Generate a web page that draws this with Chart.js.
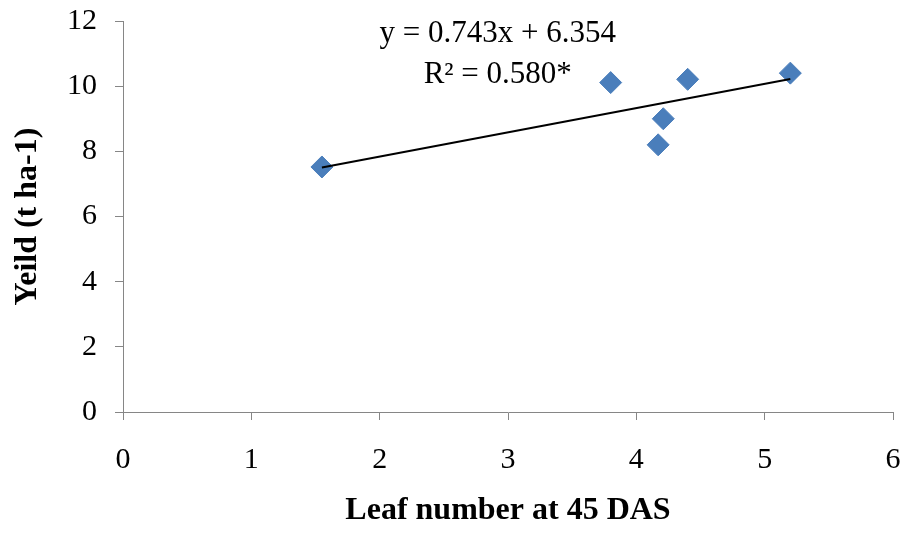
<!DOCTYPE html>
<html>
<head>
<meta charset="utf-8">
<script src="https://cdn.jsdelivr.net/npm/chart.js@4.4.1/dist/chart.umd.min.js"></script>
<style>
  html, body { margin: 0; padding: 0; background: #fff; }
  #wrap { width: 912px; height: 533px; }
</style>
</head>
<body>
<div id="wrap"><canvas id="myChart" width="912" height="533"></canvas></div>
<script>
// leaf number at 45 DAS vs yield
const leafNumber = [1.55, 3.80, 4.17, 4.21, 4.40, 5.20];
const yieldValues = [7.52, 10.11, 8.20, 9.00, 10.21, 10.40];

// linear trend shown on the chart
const slope = 0.743;
const intercept = 6.354;
const equationLines = ['y = 0.743x + 6.354', 'R\u00b2 = 0.580*'];

const xTicks = [0, 1, 2, 3, 4, 5, 6];
const yTicks = [0, 2, 4, 6, 8, 10, 12];

const axisGray = '#868686';
const serif = "'Liberation Serif', 'Times New Roman', serif";

const xMin = Math.min(...leafNumber);
const xMax = Math.max(...leafNumber);
const trendPoints = [
  { x: xMin, y: slope * xMin + intercept },
  { x: xMax, y: slope * xMax + intercept }
];

const points = leafNumber.map((v, i) => ({ x: v, y: yieldValues[i] }));

// writes the equation text near the top of the plot
const equationLabel = {
  id: 'equationLabel',
  afterDatasetsDraw(chart) {
    const { ctx, scales } = chart;
    const cx = scales.x.getPixelForValue(2.92);
    const rows = [11.6, 10.34];
    ctx.save();
    ctx.font = '31px ' + serif;
    ctx.fillStyle = '#000';
    ctx.textAlign = 'center';
    ctx.textBaseline = 'middle';
    equationLines.forEach((t, i) => {
      ctx.fillText(t, cx, scales.y.getPixelForValue(rows[i]));
    });
    ctx.restore();
  }
};

new Chart(document.getElementById('myChart'), {
  type: 'scatter',
  data: {
    datasets: [
      {
        label: 'Linear',
        type: 'line',
        data: trendPoints,
        borderColor: '#000',
        borderWidth: 2,
        pointRadius: 0,
        fill: false,
        order: 0
      },
      {
        label: 'Yield',
        data: points,
        pointStyle: 'rectRot',
        pointRadius: 11,
        pointHoverRadius: 11,
        backgroundColor: '#4a7ebb',
        borderColor: '#4a7ebb',
        borderWidth: 1,
        order: 1
      }
    ]
  },
  options: {
    responsive: false,
    animation: false,
    layout: { padding: { left: 5, right: 19, top: 21, bottom: 0 } },
    plugins: {
      legend: { display: false },
      tooltip: { enabled: false }
    },
    scales: {
      x: {
        type: 'linear',
        min: 0,
        max: 6,
        afterBuildTicks: (s) => { s.ticks = xTicks.map(v => ({ value: v })); },
        afterFit: (s) => { s.height = 121; s.paddingLeft = 0; s.paddingRight = 0; },
        grid: { drawOnChartArea: false, drawTicks: true, tickLength: 8, color: axisGray },
        border: { color: axisGray, width: 1 },
        ticks: { color: '#000', padding: 22, font: { family: serif, size: 30 } },
        title: {
          display: true,
          text: 'Leaf number at 45 DAS',
          color: '#000',
          padding: { top: 0, bottom: 3 },
          font: { family: serif, size: 32, weight: 'bold' }
        }
      },
      y: {
        type: 'linear',
        min: 0,
        max: 12,
        afterBuildTicks: (s) => { s.ticks = yTicks.map(v => ({ value: v })); },
        afterFit: (s) => { s.width = 118; s.paddingTop = 0; s.paddingBottom = 0; },
        grid: { drawOnChartArea: false, drawTicks: true, tickLength: 8, color: axisGray },
        border: { color: axisGray, width: 1 },
        ticks: { color: '#000', padding: 18, font: { family: serif, size: 30 } },
        title: {
          display: true,
          text: 'Yeild (t ha-1)',
          color: '#000',
          padding: { top: 4, bottom: 0 },
          font: { family: serif, size: 32, weight: 'bold' }
        }
      }
    }
  },
  plugins: [equationLabel]
});
</script>
</body>
</html>
